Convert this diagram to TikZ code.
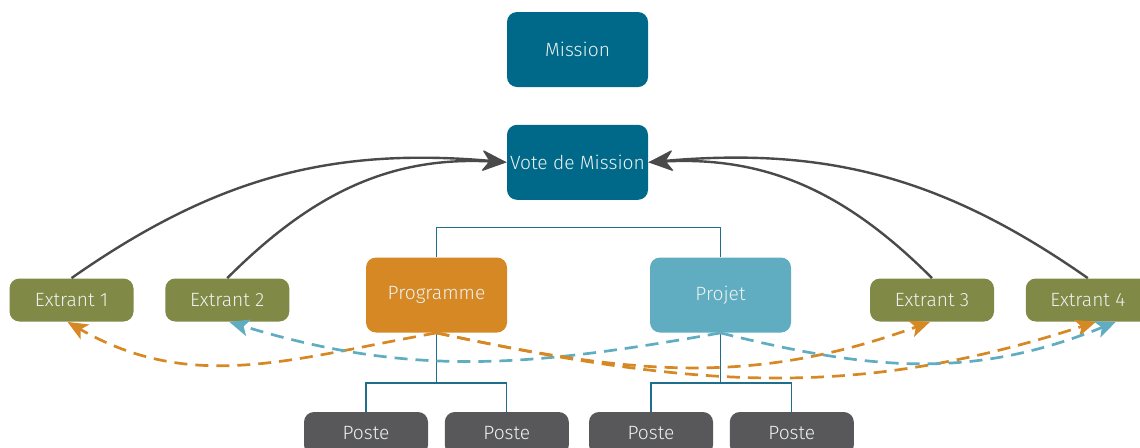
\documentclass[tikz,border=0pt]{standalone}
\usepackage{fontspec}
\setmainfont{Fira Sans}[UprightFont=* Light]
\usepackage{xcolor}
\usepackage{tikz}
\usetikzlibrary{shapes,arrows.meta,positioning,calc}
\definecolor{missionblue}{RGB}{0,104,137}
\definecolor{progorange}{RGB}{214,136,36}
\definecolor{projblue}{RGB}{96,173,193}
\definecolor{extgreen}{RGB}{128,137,69}
\definecolor{postgrey}{RGB}{88,88,90}
\definecolor{arrowgrey}{RGB}{74,74,74}
\definecolor{treeblue}{RGB}{31,110,140}
\definecolor{boxtext}{RGB}{236,242,240}
\tikzstyle{basebox} = [rectangle, rounded corners=5pt, inner xsep=0.5pt, inner ysep=2pt, text=boxtext, text centered, font=\fontsize{9.6}{11}\selectfont]
\tikzstyle{topbox} = [basebox, fill=missionblue, minimum width=70.5pt, minimum height=37.5pt]
\tikzstyle{unitbox} = [basebox, minimum width=70.5pt, minimum height=37.5pt]
\tikzstyle{extbox} = [basebox, fill=extgreen, minimum width=62pt, minimum height=21.5pt]
\tikzstyle{postbox} = [basebox, fill=postgrey, minimum width=62pt, minimum height=21.5pt]
\tikzstyle{ctrlarrow} = [line width=1.2pt, arrowgrey, -{Stealth[length=12pt,width=10pt,inset=3.5pt]}]
\tikzstyle{feedarrow} = [line width=1.35pt, dash pattern=on 6.5pt off 4pt, -{Stealth[length=10pt,width=8.5pt,inset=2.5pt]}]
\tikzstyle{treeline} = [draw=treeblue, line width=0.6pt]

\begin{document}
\begin{tikzpicture}[x=0.5pt, y=0.5pt, node distance=15.5pt]
    \clip (0,0) rectangle (1140,447);
    % top of the chart
    \node[topbox] (mission) at (577.5,397.5) {Mission};
    \node[topbox, below=18.5pt of mission] (vote) {Vote de Mission};
    % programme and projet
    \node[unitbox, fill=progorange] (prog) at (436.5,152) {Programme};
    \node[unitbox, fill=projblue] (proj) at (720.5,152) {Projet};
    % extrants
    \node[extbox] (ext1) at (71.5,147) {Extrant 1};
    \node[extbox, right=of ext1] (ext2) {Extrant 2};
    \node[extbox] (ext3) at (932,147) {Extrant 3};
    \node[extbox, right=of ext3] (ext4) {Extrant 4};
    % postes
    \node[postbox] (post1) at (366,13.5) {Poste};
    \node[postbox, right=8pt of post1] (post2) {Poste};
    \node[postbox] (post3) at (651,13.5) {Poste};
    \node[postbox, right=8pt of post3] (post4) {Poste};

    % tree lines
    \draw[treeline] (prog.north) -- ++(0,30) -| (proj.north);
    \draw[treeline] (prog.south) -- ++(0,-50) coordinate (progfork);
    \draw[treeline] (post1.north) |- (progfork) -| (post2.north);
    \draw[treeline] (proj.south) -- ++(0,-50) coordinate (projfork);
    \draw[treeline] (post3.north) |- (projfork) -| (post4.north);

    % extrants up to the vote
    \draw[ctrlarrow] (ext1.north) to[out=35,in=175] (vote.west);
    \draw[ctrlarrow] (ext2.north) to[out=45,in=177] (vote.west);
    \draw[ctrlarrow] (ext3.north) to[out=135,in=3] (vote.east);
    \draw[ctrlarrow] (ext4.north) to[out=145,in=5] (vote.east);

    % programme / projet down to the extrants
    \draw[feedarrow, progorange] (prog.south) to[out=190,in=-30] ([xshift=-2pt]ext1.south);
    \draw[feedarrow, projblue] (proj.south) to[out=190,in=-17] ([xshift=1pt]ext2.south);
    \draw[feedarrow, progorange] (prog.south) to[out=-12,in=-160] ([xshift=-1pt]ext3.south);
    \draw[feedarrow, progorange] (prog.south) to[out=-12,in=-162] ([xshift=4pt]ext4.south);
    \draw[feedarrow, projblue] (proj.south) to[out=-14,in=-158] ([xshift=14pt]ext4.south);
\end{tikzpicture}
\end{document}
